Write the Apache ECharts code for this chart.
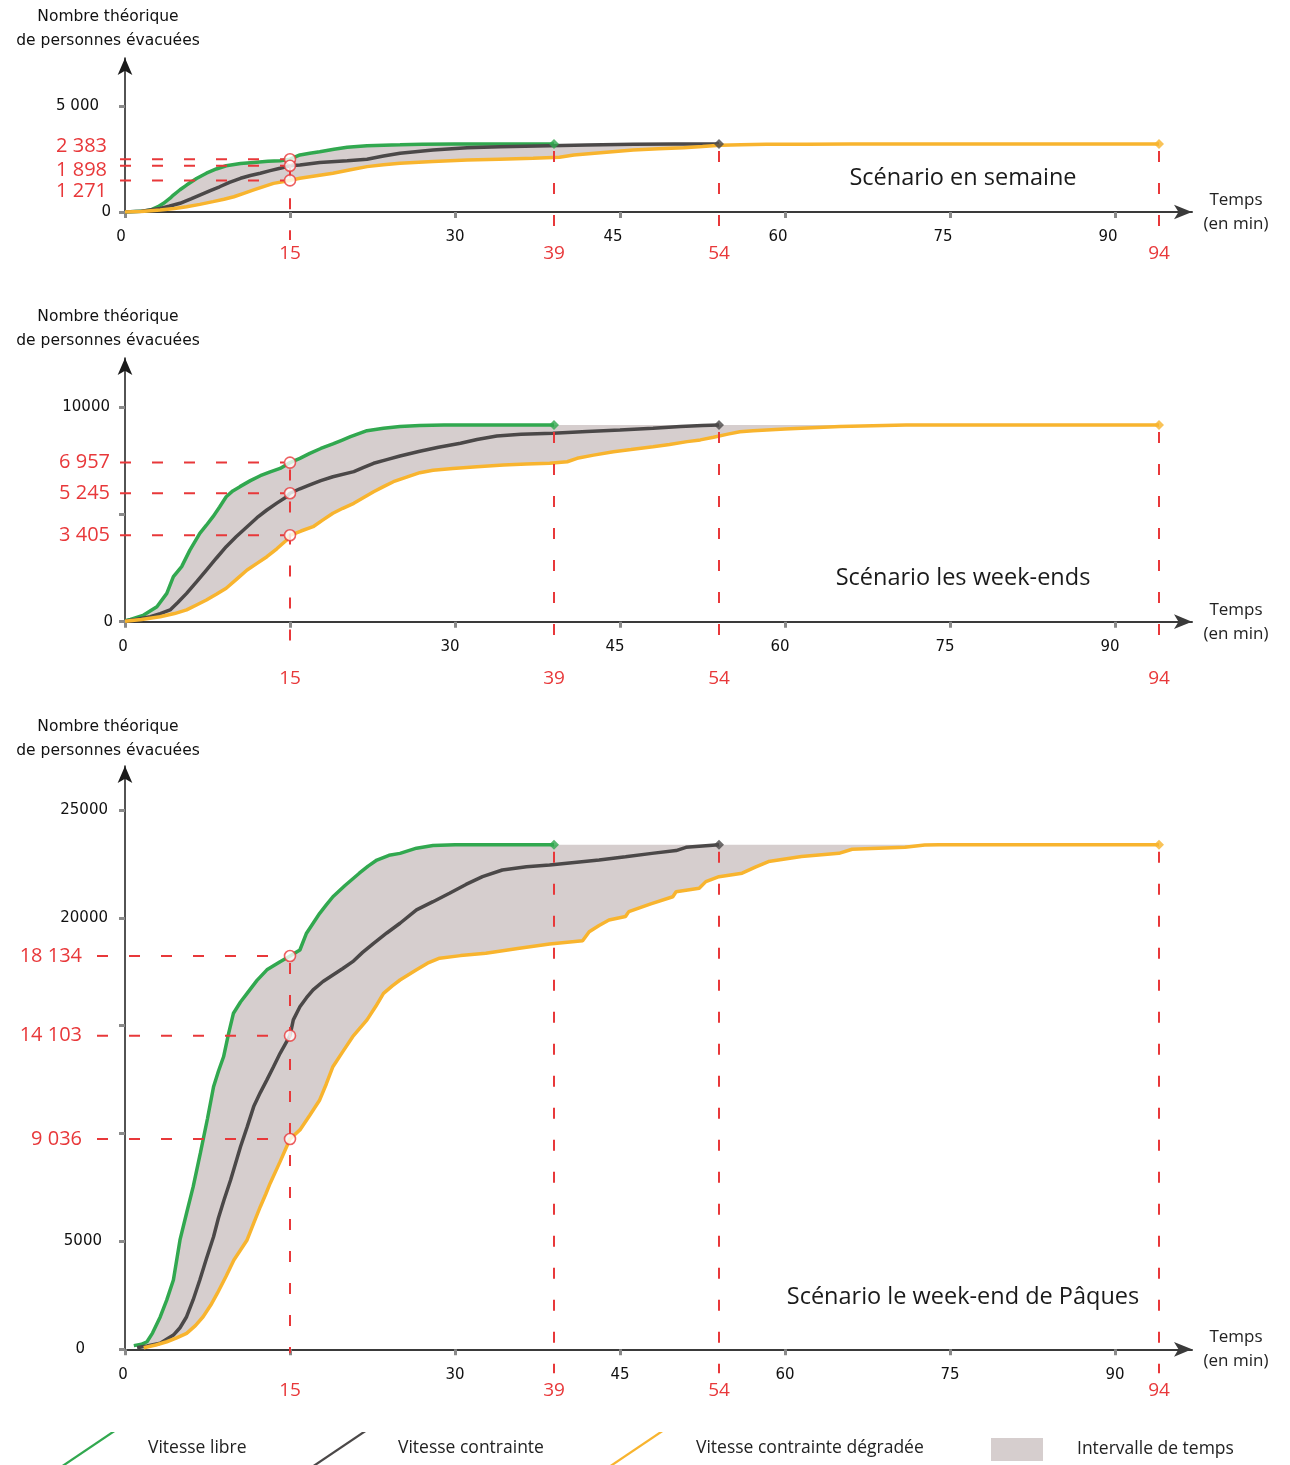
<!DOCTYPE html>
<html><head><meta charset="utf-8">
<script src="https://cdn.jsdelivr.net/npm/echarts@6/dist/echarts.min.js"></script>
<style>html,body{margin:0;padding:0;background:#fff}#c{width:1290px;height:1465px}</style>
</head><body><div id="c"></div>
<script>
// ---------------- DATA ----------------
const xTicks = [0, 15, 30, 45, 60, 75, 90];
const xTickLabels = [0, 30, 45, 60, 75, 90];
const keyTimes = [15, 39, 54, 94];
const seriesNames = ['Vitesse libre', 'Vitesse contrainte', 'Vitesse contrainte dégradée'];
const bandName = 'Intervalle de temps';
const yAxisTitle = 'Nombre théorique\nde personnes évacuées';
const xAxisTitle = 'Temps\n(en min)';

// Scénario en semaine
const weekTitle = 'Scénario en semaine';
const weekYTicks = [0, 5000];
const weekYLabelValues = [0, 5000];
const weekYLabelTexts = ['0', '5 000'];
const weekGreen = [[0,0],[1.5,30],[2.3,95],[3,250],[3.5,410],[4.1,650],[4.4,800],[5,1050],[5.6,1270],[6.5,1580],[7.4,1830],[8.3,2030],[9.2,2180],[10.5,2290],[11.7,2340],[13,2390],[14.1,2420],[15,2490],[15.9,2690],[16.8,2770],[17.7,2840],[19,2960],[20.2,3050],[22,3130],[25,3170],[27,3200],[30,3210],[39,3210]];
const weekGrey = [[0,0],[1.5,40],[3.2,170],[4,270],[5,410],[6,620],[6.8,800],[7.7,1000],[8.6,1190],[9.5,1400],[10.5,1590],[11.4,1720],[12.3,1830],[13.2,1950],[14.1,2060],[15,2180],[15.9,2220],[17.7,2340],[20.2,2420],[22,2490],[23.5,2640],[25,2770],[28,2920],[31.1,3030],[34.1,3080],[38.6,3130],[42,3160],[46.2,3190],[50,3210],[54,3210]];
const weekYellow = [[0,0],[1.5,20],[3.2,95],[4.5,170],[5.6,250],[6.8,360],[8,490],[9,600],[9.9,720],[10.8,880],[11.7,1040],[12.6,1200],[13.5,1350],[15,1490],[15.9,1590],[17.4,1710],[18.9,1830],[20.5,1990],[22,2140],[23.5,2230],[25,2300],[28,2380],[31.1,2450],[34,2490],[37.1,2530],[39.5,2580],[40.8,2690],[43.5,2810],[46.2,2920],[48.5,2980],[50.8,3030],[52.5,3090],[54.1,3150],[56,3170],[58.3,3190],[62,3200],[65.9,3210],[94,3210]];
const weekMarkers = [2490, 2180, 1490];
const weekMarkerTexts = ['2 383', '1 898', '1 271'];
const weekMarkerAnchors = [3080, 1981, 958];

// Scénario les week-ends
const weekendTitle = 'Scénario les week-ends';
const weekendYTicks = [0, 5000, 10000];
const weekendYLabelValues = [0, 10000];
const weekendYLabelTexts = ['0', '10000'];
const weekendGreen = [[0,50],[0.5,110],[1.7,310],[2.9,700],[3.8,1320],[4.4,2100],[5.15,2570],[5.9,3340],[6.8,4120],[7.4,4500],[8,4900],[8.6,5350],[9.2,5830],[9.8,6100],[10.45,6300],[11.4,6580],[12.3,6810],[13.2,6990],[14.1,7150],[15,7420],[15.9,7620],[16.8,7850],[17.8,8080],[18.9,8290],[19.7,8460],[20.5,8630],[22,8910],[23.5,9020],[25,9100],[26.8,9150],[29,9170],[39,9170]];
const weekendGrey = [[0,30],[1,100],[2.3,230],[3.2,380],[4.1,550],[4.8,900],[5.6,1320],[6.5,1860],[7.4,2410],[8.3,2960],[9.2,3500],[10.1,3960],[11.1,4430],[12,4850],[12.9,5210],[13.8,5530],[14.7,5830],[15,5990],[15.9,6200],[16.8,6380],[17.8,6580],[18.9,6760],[20.8,7000],[21.7,7200],[22.6,7390],[23.8,7560],[25,7730],[26.8,7950],[28.5,8140],[30.5,8320],[32,8500],[33.8,8660],[36,8740],[38.9,8790],[42,8870],[45,8940],[48,9020],[50.5,9100],[52.5,9150],[54,9170]];
const weekendYellow = [[0,20],[1.5,100],[3.2,230],[4.5,380],[5.6,550],[6.5,780],[7.4,1010],[8.3,1280],[9.2,1560],[10.1,1960],[11.1,2410],[12,2720],[12.9,3030],[13.8,3400],[14.7,3810],[15,4030],[16,4230],[17.1,4430],[18,4750],[18.9,5060],[19.8,5290],[20.8,5520],[21.7,5790],[22.6,6060],[23.5,6300],[24.4,6530],[25.6,6740],[26.8,6950],[28,7060],[29.8,7150],[32,7230],[34.4,7310],[36.5,7350],[38.6,7390],[40.2,7460],[41.1,7620],[42.6,7770],[44.4,7930],[46,8030],[48,8160],[49.5,8270],[51.1,8400],[52.3,8480],[53.5,8600],[54.8,8750],[55.9,8860],[57.1,8910],[60,8990],[62.5,9050],[65,9100],[68,9140],[71,9170],[94,9170]];
const weekendMarkers = [7420, 5990, 4030];
const weekendMarkerTexts = ['6 957', '5 245', '3 405'];
const weekendMarkerAnchors = [7420, 5990, 4030];

// Scénario le week-end de Pâques
const paquesTitle = 'Scénario le week-end de Pâques';
const paquesYTicks = [0, 5000, 10000, 15000, 20000, 25000];
const paquesYLabelValues = [0, 5000, 20000, 25000];
const paquesYLabelTexts = ['0', '5000', '20000', '25000'];
const paquesGreen = [[0.8,170],[1.5,230],[2,350],[2.5,750],[3.2,1500],[3.8,2290],[4.4,3210],[5,5070],[5.6,6320],[6.2,7540],[6.85,9090],[7.5,10700],[8.05,12170],[8.5,12900],[8.96,13560],[9.4,14600],[9.86,15580],[10.5,16100],[11.1,16500],[12,17100],[12.9,17590],[14.1,17970],[15,18230],[15.9,18510],[16.5,19290],[17.1,19750],[17.7,20210],[18.3,20600],[18.9,20980],[20,21500],[21.3,22070],[22.1,22400],[22.9,22680],[24,22900],[25,22990],[26.5,23230],[28,23350],[30,23390],[39,23390]];
const paquesGrey = [[1.1,75],[2,150],[3.2,280],[4.4,660],[5,1000],[5.6,1510],[6.2,2300],[6.8,3210],[7.4,4200],[8.05,5220],[8.5,6100],[9,6920],[9.6,7850],[10.5,9390],[11.1,10300],[11.7,11250],[12.3,11900],[12.9,12490],[13.5,13100],[14.1,13720],[15,14540],[15.3,15270],[15.9,15880],[16.5,16300],[17.1,16660],[18,17050],[18.9,17350],[19.8,17650],[20.7,17970],[21.6,18400],[22.6,18820],[23.8,19300],[25,19750],[26.5,20370],[28,20750],[29.5,21140],[31,21550],[32.5,21910],[34.3,22220],[36.5,22370],[38.6,22450],[43.1,22680],[45.5,22830],[47.9,22990],[50.1,23120],[51,23270],[53.7,23380],[54,23390]];
const paquesYellow = [[1.7,75],[2.8,200],[3.8,350],[4.7,530],[5.6,740],[6.4,1100],[7.1,1510],[7.8,2050],[8.4,2600],[9.2,3400],[9.9,4140],[10.5,4600],[11.1,5070],[11.7,5850],[12.3,6610],[12.8,7200],[13.2,7700],[14.1,8700],[15,9750],[15.9,10170],[16.8,10850],[17.7,11560],[18.3,12300],[18.9,13100],[19.8,13800],[20.7,14490],[22,15270],[22.8,15900],[23.5,16500],[24.3,16850],[25,17120],[26.5,17590],[27.5,17900],[28.6,18130],[30.5,18250],[32.8,18360],[35.7,18580],[38.6,18790],[41.6,18940],[42.2,19360],[43.1,19650],[44,19900],[45.5,20060],[45.8,20290],[47.8,20650],[49.8,20980],[50.1,21210],[52.2,21370],[52.8,21680],[54,21910],[56.1,22070],[57.3,22350],[58.5,22610],[61.5,22840],[64.9,22990],[66.1,23180],[70.9,23270],[72.7,23380],[74,23390],[94,23390]];
const paquesMarkers = [18230, 14540, 9750];
const paquesMarkerTexts = ['18 134', '14 103', '9 036'];
const paquesMarkerAnchors = [18230, 14540, 9750];

// ---------------- STYLE / LAYOUT ----------------
const RED = '#e8383a', GREEN = '#31a84f', GREY = '#4b4848', YELLOW = '#f8b42e', BAND = '#d6cece';
const LINE_COLORS = [GREEN, GREY, YELLOW];
const SLASH = 'path://M0,33 L49,0 L53,0 L4,33 Z';
const TICK_FONT = 'DejaVu Sans';
const TEXT_FONT = 'Open Sans';

const panels = [
  {title: weekTitle, curves: [weekGreen, weekGrey, weekYellow], yTicks: weekYTicks, yLabelValues: weekYLabelValues, yLabelTexts: weekYLabelTexts,
   markers: weekMarkers, markerTexts: weekMarkerTexts, markerAnchors: weekMarkerAnchors,
   top: 58, height: 154, max: 7264, titleY: 178, nameY: 5, yMargin: 14, yPads: [0, 12], redYMargin: 18, redXMargin: 32,
   hExt: 5, vExt: [28, 25, 25, 25], xShift: v => v === 0 ? 4 : (v === 30 ? 0 : 7)},
  {title: weekendTitle, curves: [weekendGreen, weekendGrey, weekendYellow], yTicks: weekendYTicks, yLabelValues: weekendYLabelValues, yLabelTexts: weekendYLabelTexts,
   markers: weekendMarkers, markerTexts: weekendMarkerTexts, markerAnchors: weekendMarkerAnchors,
   top: 358, height: 263.7, max: 12300, titleY: 578, nameY: 305, yMargin: 12, yPads: [0, 3], redYMargin: 15, redXMargin: 47,
   hExt: 5, vExt: [30, 20, 20, 23], xShift: v => v === 0 ? 2 : 5},
  {title: paquesTitle, curves: [paquesGreen, paquesGrey, paquesYellow], yTicks: paquesYTicks, yLabelValues: paquesYLabelValues, yLabelTexts: paquesYLabelTexts,
   markers: paquesMarkers, markerTexts: paquesMarkerTexts, markerAnchors: paquesMarkerAnchors,
   top: 766, height: 583.3, max: 27040, titleY: 1297, nameY: 715, yMargin: 17, yPads: [23, 6, 0, 0], redYMargin: 43, redXMargin: 32,
   hExt: 28, vExt: [4, 24, 24, 24], xShift: v => v === 0 ? 2 : 0}
];

const last = a => a[a.length - 1];
const grids = [], xAxes = [], yAxes = [], series = [], graphics = [];

panels.forEach((p, i) => {
  grids.push({left: 125, width: 1067, top: p.top, height: p.height, containLabel: false, outerBoundsMode: 'none'});

  const xr = {};
  xTickLabels.forEach(v => { const s = p.xShift(v); xr['s' + s] = {padding: [0, 2 * s, 0, 0], fontSize: 15, fontFamily: TICK_FONT, color: '#111'}; });
  xAxes.push({
    type: 'value', gridIndex: i, min: 0, max: 97, position: 'bottom',
    axisLine: {show: true, onZero: false, symbol: ['none', 'arrow'], symbolSize: [11, 18], lineStyle: {color: '#3a3a3a', width: 2}},
    axisTick: {show: true, customValues: xTicks, length: 6, lineStyle: {color: '#8a8a8a', width: 3}},
    axisLabel: {show: true, customValues: xTickLabels, margin: 18, fontSize: 15, fontFamily: TICK_FONT, color: '#111',
      formatter: v => '{s' + p.xShift(v) + '|' + v + '}', rich: xr},
    splitLine: {show: false},
    name: xAxisTitle, nameLocation: 'end', nameGap: 44,
    nameTextStyle: {fontSize: 17, fontFamily: TEXT_FONT, color: '#222', align: 'center', verticalAlign: 'middle', lineHeight: 24}
  });
  xAxes.push({
    type: 'value', gridIndex: i, min: 0, max: 97, position: 'bottom',
    axisLine: {show: false, onZero: false}, axisTick: {show: false}, splitLine: {show: false},
    axisLabel: {show: true, customValues: keyTimes, margin: p.redXMargin, fontSize: 19, fontFamily: TEXT_FONT, color: RED, formatter: v => String(v)}
  });

  const yr = {};
  p.yPads.forEach(pd => { yr['p' + pd] = {padding: [0, pd, 0, 0], fontSize: 15, fontFamily: TICK_FONT, color: '#111'}; });
  yAxes.push({
    type: 'value', gridIndex: i, min: 0, max: p.max, position: 'left',
    axisLine: {show: true, onZero: false, symbol: ['none', 'arrow'], symbolSize: [11, 17], lineStyle: {color: '#1a1a1a', width: 1.5}},
    axisTick: {show: true, customValues: p.yTicks, length: 6, lineStyle: {color: '#8a8a8a', width: 3}},
    axisLabel: {show: true, customValues: p.yLabelValues, margin: p.yMargin, fontSize: 15, fontFamily: TICK_FONT, color: '#111',
      formatter: v => { const k = p.yLabelValues.indexOf(v); return '{p' + p.yPads[k] + '|' + p.yLabelTexts[k] + '}'; }, rich: yr},
    splitLine: {show: false}
  });
  yAxes.push({
    type: 'value', gridIndex: i, min: 0, max: p.max, position: 'left',
    axisLine: {show: false, onZero: false}, axisTick: {show: false}, splitLine: {show: false},
    axisLabel: {show: true, customValues: p.markerAnchors, margin: p.redYMargin, fontSize: 20, fontFamily: TEXT_FONT, color: RED,
      formatter: v => p.markerTexts[p.markerAnchors.indexOf(v)]}
  });

  const xi = 2 * i, yi = 2 * i;
  const [g, gr, y] = p.curves;

  // band between fastest (upper envelope) and slowest curve
  series.push({
    type: 'custom', name: bandName, xAxisIndex: xi, yAxisIndex: yi, z: 1, silent: true,
    itemStyle: {color: BAND}, data: [[0, 0]],
    renderItem: (params, api) => {
      const pts = g.map(pt => api.coord(pt));
      pts.push(api.coord([last(y)[0], last(g)[1]]));
      for (let k = y.length - 1; k >= 0; k--) pts.push(api.coord(y[k]));
      return {type: 'polygon', shape: {points: pts}, style: {fill: BAND}};
    }
  });

  p.curves.forEach((c, k) => {
    series.push({
      type: 'line', name: seriesNames[k], xAxisIndex: xi, yAxisIndex: yi, data: c, z: 3,
      showSymbol: false, color: LINE_COLORS[k], lineStyle: {width: 3.5, color: LINE_COLORS[k]}, silent: true
    });
  });

  // dashed guides
  const guides = p.markers.map(m => [15, m, 0, p.hExt]);
  guides.push([15, Math.max(...p.markers), 1, p.vExt[0]]);
  p.curves.forEach((c, k) => guides.push([keyTimes[k + 1], last(c)[1], 1, p.vExt[k + 1]]));
  series.push({
    type: 'custom', name: 'guides', xAxisIndex: xi, yAxisIndex: yi, z: 4, silent: true, data: guides,
    renderItem: (params, api) => {
      const x = api.value(0), v = api.value(1), kind = api.value(2), e = api.value(3);
      const pt = api.coord([x, v]);
      let shape;
      if (kind === 0) {
        const a = api.coord([0, v]);
        shape = {x1: a[0] - e, y1: a[1], x2: pt[0] - 6, y2: pt[1]};
      } else {
        const b = api.coord([x, 0]);
        shape = {x1: pt[0], y1: pt[1] + 7, x2: b[0], y2: b[1] + e};
      }
      return {type: 'line', shape: shape, style: {stroke: RED, lineWidth: 2, lineDash: [11, 21]}};
    }
  });

  // curve end diamonds
  series.push({
    type: 'scatter', name: 'ends', xAxisIndex: xi, yAxisIndex: yi, z: 5, silent: true, symbol: 'diamond', symbolSize: 10,
    data: p.curves.map((c, k) => ({value: last(c), itemStyle: {color: LINE_COLORS[k]}}))
  });

  // markers at 15 min
  series.push({
    type: 'scatter', name: 'markers', xAxisIndex: xi, yAxisIndex: yi, z: 6, silent: true, symbol: 'circle', symbolSize: 11,
    itemStyle: {color: '#fff', borderColor: RED, borderWidth: 1.6},
    data: p.markers.map(m => [15, m])
  });

  graphics.push({type: 'text', x: 963, y: p.titleY, style: {text: p.title, fontSize: 23.5, fontFamily: TEXT_FONT, fill: '#1a1a1a', align: 'center', verticalAlign: 'middle'}});
  graphics.push({type: 'text', x: 108, y: p.nameY, style: {text: yAxisTitle, fontSize: 15.5, fontFamily: TICK_FONT, fill: '#111', align: 'center', verticalAlign: 'top', lineHeight: 24}});
});

const legendBase = {orient: 'horizontal', selectedMode: false, itemGap: 0, padding: 0,
  textStyle: {fontSize: 17.5, fontFamily: TEXT_FONT, color: '#222'}};
const legends = [
  Object.assign({}, legendBase, {left: 62, top: 1432, itemWidth: 53, itemHeight: 33, data: [{name: seriesNames[0], icon: SLASH}], textStyle: Object.assign({}, legendBase.textStyle, {padding: [0, 0, 0, 28]})}),
  Object.assign({}, legendBase, {left: 313, top: 1432, itemWidth: 53, itemHeight: 33, data: [{name: seriesNames[1], icon: SLASH}], textStyle: Object.assign({}, legendBase.textStyle, {padding: [0, 0, 0, 27]})}),
  Object.assign({}, legendBase, {left: 610, top: 1432, itemWidth: 53, itemHeight: 33, data: [{name: seriesNames[2], icon: SLASH}], textStyle: Object.assign({}, legendBase.textStyle, {padding: [0, 0, 0, 28]})}),
  Object.assign({}, legendBase, {left: 991, top: 1438, itemWidth: 52, itemHeight: 23, data: [{name: bandName, icon: 'rect'}], textStyle: Object.assign({}, legendBase.textStyle, {padding: [0, 0, 0, 29]})})
];

const chart = echarts.init(document.getElementById('c'), null, {renderer: 'canvas'});
chart.setOption({
  backgroundColor: '#ffffff',
  animation: false,
  grid: grids, xAxis: xAxes, yAxis: yAxes, series: series,
  legend: legends, graphic: graphics, tooltip: {show: false}
});
</script></body></html>
